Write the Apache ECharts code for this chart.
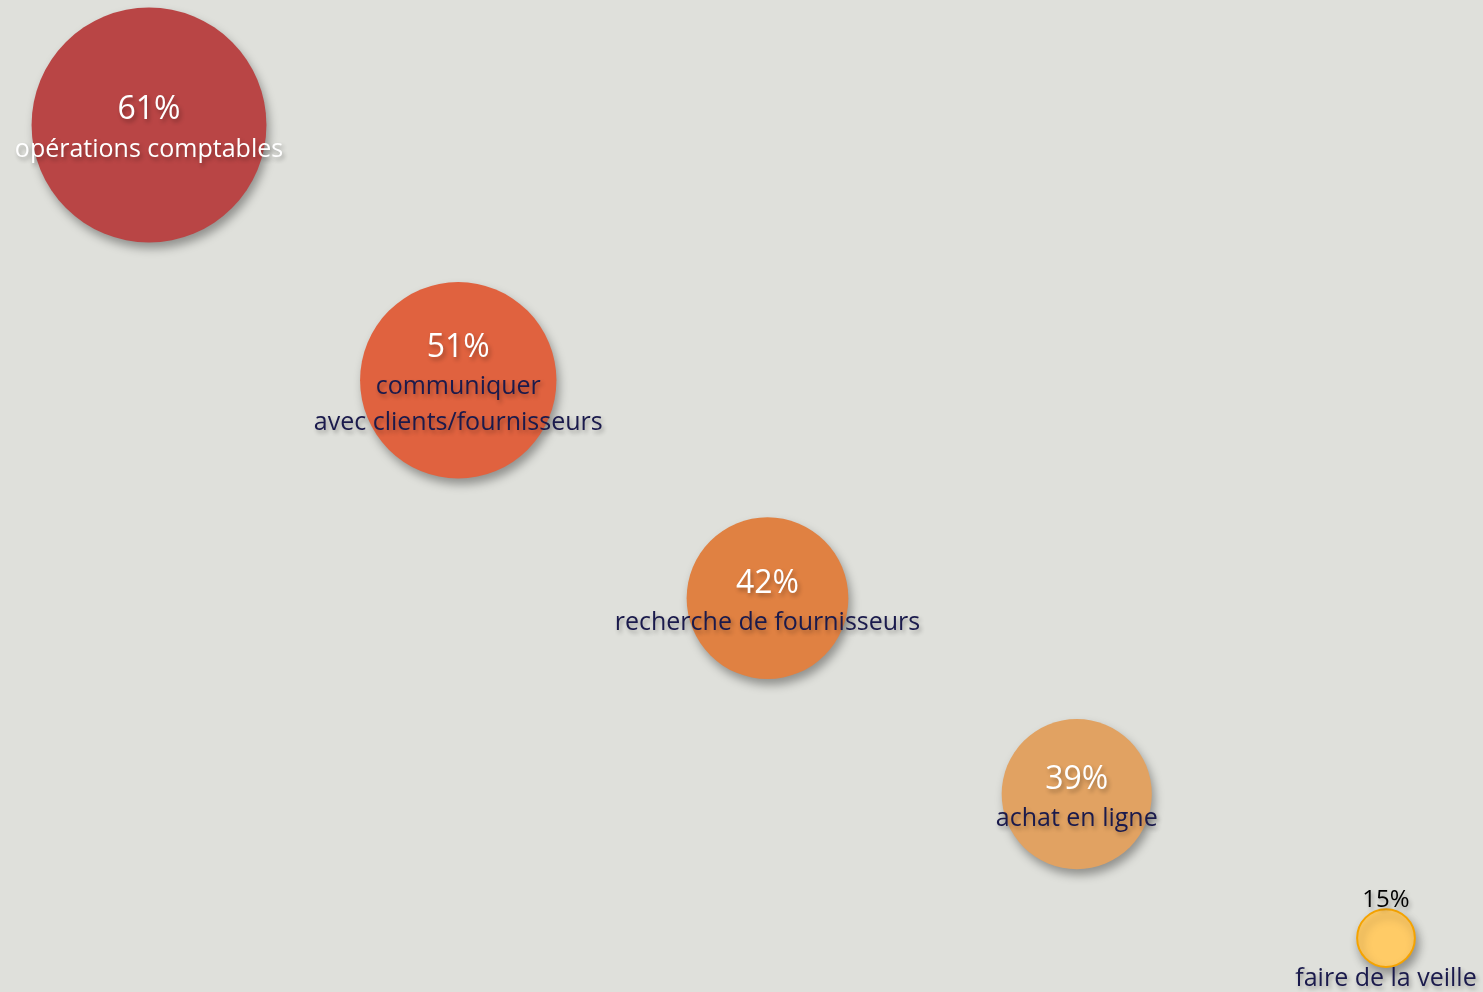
<!DOCTYPE html>
<html>
<head>
<meta charset="utf-8">
<script src="https://cdn.jsdelivr.net/npm/echarts@6/dist/echarts.min.js"></script>
<style>
  html, body { margin: 0; padding: 0; background: #dfe0db; }
  #myChart { width: 1483px; height: 992px; }
</style>
</head>
<body>
<div id="myChart"></div>
<script>
'use strict';

// --- data
var categories = ['opérations comptables', 'communiquer\navec clients/fournisseurs', 'recherche de fournisseurs', 'achat en ligne', 'faire de la veille'];
var shares = [61, 51, 42, 39, 15];
var xPos = [1, 2, 3, 4, 5];
var yPos = [100, 68.6, 41.8, 17.7, 0];

var palette = ['#b94545', '#e0623f', '#e08142', '#e1a262', '#ffcb66'];
var navy = '#1a1a4c';

var myChart = echarts.init(document.getElementById('myChart'));

function labelFor(idx) {
  var pct = shares[idx] + '%';
  var lines = categories[idx].split('\n');
  if (idx === 4) {
    // small bubble: value above, name below
    return '{ps|' + pct + '}\n{gap| }\n{c|' + lines[0] + '}';
  }
  var cStyle = idx === 0 ? 'cw' : 'c';
  var out = '{p|' + pct + '}';
  lines.forEach(function (l) {
    out += '\n{' + cStyle + '|' + l + '}';
  });
  return out;
}

var seriesData = shares.map(function (v, i) {
  var item = {
    value: [xPos[i], yPos[i], v],
    itemStyle: {
      color: palette[i],
      borderColor: i === 4 ? '#f5a300' : 'transparent',
      borderWidth: i === 4 ? 2 : 0
    }
  };
  if (i === 4) {
    item.label = { offset: [0, 0] };
  }
  return item;
});

var textShadow = {
  textShadowColor: 'rgba(0,0,0,0.3)',
  textShadowBlur: 4,
  textShadowOffsetX: 2,
  textShadowOffsetY: 3
};

var option = {
  backgroundColor: '#dfe0db',
  animation: false,
  grid: {
    left: 149,
    right: 97,
    top: 125,
    bottom: 54
  },
  xAxis: {
    type: 'value',
    min: 1,
    max: 5,
    show: false
  },
  yAxis: {
    type: 'value',
    min: 0,
    max: 100,
    show: false
  },
  series: [{
    type: 'scatter',
    data: seriesData,
    symbolSize: function (val) {
      return val[2] * 3.85;
    },
    itemStyle: {
      opacity: 1,
      shadowColor: 'rgba(0,0,0,0.35)',
      shadowBlur: 10,
      shadowOffsetX: 3,
      shadowOffsetY: 6
    },
    label: {
      show: true,
      position: 'inside',
      align: 'center',
      verticalAlign: 'middle',
      offset: [0, 4],
      fontFamily: 'Open Sans',
      formatter: function (p) {
        return labelFor(p.dataIndex);
      },
      rich: {
        p: Object.assign({ color: '#ffffff', fontSize: 32, lineHeight: 41, fontFamily: 'Open Sans' }, textShadow),
        ps: Object.assign({ color: '#000000', fontSize: 24, lineHeight: 42, fontFamily: 'Open Sans' }, textShadow),
        gap: { fontSize: 10, lineHeight: 40 },
        c: Object.assign({ color: navy, fontSize: 25, lineHeight: 36, fontFamily: 'Open Sans' }, textShadow),
        cw: Object.assign({ color: '#ffffff', fontSize: 25, lineHeight: 38, fontFamily: 'Open Sans' }, textShadow)
      }
    }
  }]
};

myChart.setOption(option);

window.addEventListener('resize', function () {
  myChart.resize();
});
</script>
</body>
</html>
